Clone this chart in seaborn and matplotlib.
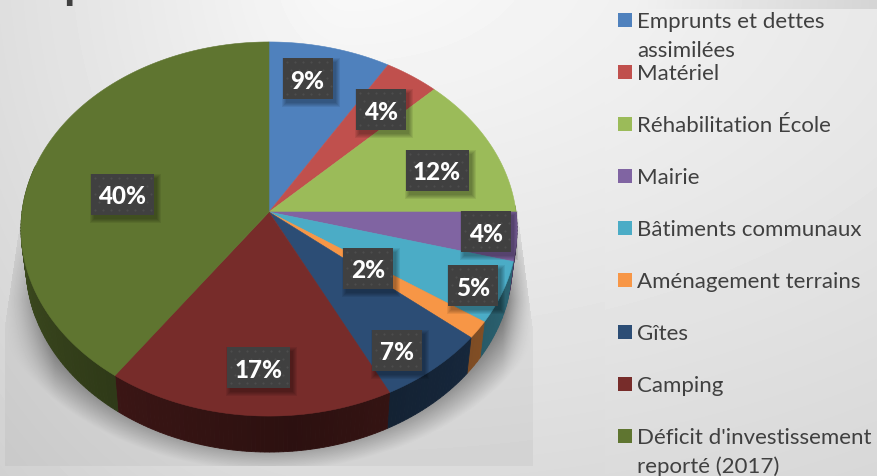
#!/usr/bin/env python3
import numpy as np
import matplotlib
matplotlib.use('Agg')
import matplotlib.pyplot as plt
from matplotlib.patches import Rectangle
import seaborn as sns

# parts of the budget (%)
categories = ['Emprunts et dettes\nassimilées', 'Matériel', 'Réhabilitation École', 'Mairie',
              'Bâtiments communaux', 'Aménagement terrains', 'Gîtes', 'Camping',
              "Déficit d'investissement\nreporté (2017)"]
values = [8.7, 3.9, 12.4, 4.2, 5.3, 1.5, 6.6, 17.2, 40.2]
colors = ['#4f81bd', '#c0504d', '#9bbb59', '#8064a2', '#4bacc6', '#f79646', '#2c4d75', '#772c2a', '#5f7530']

# where the label boxes sit, in pixels
label_xy = [(307.5, 78.5), (381, 109), (437, 170), (486, 231), (473, 285),
            (368, 268), (397, 350), (258.5, 367.5), (122, 194)]

sns.set_theme(style='white')
plt.rcParams['font.family'] = ['Lato', 'DejaVu Sans']
palette = sns.color_palette(colors)

W, H = 877, 476
fig = plt.figure(figsize=(W / 100, H / 100), dpi=100)
ax = fig.add_axes([0, 0, 1, 1])
ax.set_xlim(0, W)
ax.set_ylim(H, 0)
ax.axis('off')

# pie seen in perspective: circle -> ellipse, centre moved up
cx, cy, a, b, k = 269, 212, 247, 185.5, 0.0909
depth = 36


def rim(theta):
    u, v = np.sin(theta), np.cos(theta)
    w = 1 + k * v
    return cx + a * u / w, cy - b * v / w


# slide background and pie shadow
xx, yy = np.meshgrid(np.arange(W) + .5, np.arange(H) + .5)
sx = np.where(xx < 350, 380, 900)
grey = 250 - 30 * np.hypot((xx - 350) / sx, (yy + 40) / 520)
grey[yy < 9] -= np.clip((xx[yy < 9] - 640) / 237, 0, 1) * 20
grey[xx < 605] -= .7 * yy[xx < 605] / H

edge_l = np.where(yy < 325, 22 - (yy - 210) * 17 / 115, 5)
edge_r = np.where(yy < 330, 516 + (yy - 200) * 17 / 130, 533)
mask = (yy > 205) & (yy < 466) & (xx > edge_l) & (xx < edge_r)
d = np.hypot((xx - 269) / 300, (yy - 235) / 236)
fade = np.clip((1.0 - d) / .16, 0, 1)
fade = fade * np.clip((xx - 5) / 50, 0, 1) * np.clip((533 - xx) / 30, 0, 1) * np.clip((yy - 210) / 90, 0, 1)
soft = .04 * np.clip((yy - 205) / 100, 0, 1)
grey = np.where(mask, grey * (1 - soft - .46 * fade), grey)
ax.imshow(grey, cmap='gray', vmin=0, vmax=255, extent=(0, W, H, 0), aspect='auto', zorder=0)

# slices
edges = np.cumsum([0] + values) / sum(values) * 2 * np.pi
for i in range(len(values)):
    t0, t1 = edges[i], edges[i + 1]
    col = np.array(palette[i])
    # side wall
    ts = np.linspace(t0, t1, max(int((t1 - t0) * 60), 2))
    for p, q in zip(ts[:-1], ts[1:]):
        mid = np.degrees((p + q) / 2)
        if mid < 88 or mid > 285:
            continue
        x0, y0 = rim(p)
        x1, y1 = rim(q)
        xb0 = cx + (x0 - cx) * .98
        xb1 = cx + (x1 - cx) * .98
        shade = .37 + .003 * abs(mid - 175)
        ax.fill([x0, x1, xb1, xb0], [y0, y1, y1 + depth, y0 + depth], color=col * shade, lw=.6, zorder=2)
for i in range(len(values)):
    ts = np.linspace(edges[i], edges[i + 1], 120)
    x, y = rim(ts)
    ax.fill(np.r_[cx, x], np.r_[cy, y], color=palette[i], lw=.4, zorder=3)

# data labels: dark dotted box, soft shadow, white percent
for val, (x, y) in zip(values, label_xy):
    txt = f'{round(val)}%'
    bw = 63 if len(txt) > 2 else 50
    bh = 41
    for s in range(5, 0, -1):
        ax.add_patch(Rectangle((x - bw / 2 + 3 - s + 1, y - bh / 2 + 4 - s + 1), bw + 2 * s - 2, bh + 2 * s - 2,
                               color='black', alpha=.07, lw=0, zorder=4))
    ax.add_patch(Rectangle((x - bw / 2, y - bh / 2), bw, bh, color='#404040', lw=0, zorder=5))
    gx, gy = np.meshgrid(np.arange(x - bw / 2 + 4, x + bw / 2 - 1, 8), np.arange(y - bh / 2 + 4, y + bh / 2 - 1, 8))
    gx = gx + (np.arange(gx.shape[0])[:, None] % 2) * 4
    keep = gx < x + bw / 2 - 1
    ax.scatter(gx[keep], gy[keep], s=2.5, color='#4d4d4d', lw=0, zorder=6)
    ax.text(x, y + 1, txt, color='white', fontsize=17.5, fontweight='black', ha='center', va='center_baseline', zorder=7)

# legend
for i, name in enumerate(categories):
    ym = 20 + 52 * i
    ax.add_patch(Rectangle((618, ym - 7), 14, 14, color=palette[i], lw=0, zorder=3))
    for j, line in enumerate(name.split('\n')):
        ax.text(637, ym + 29 * j, line, color='#404040', fontsize=16, ha='left', va='center_baseline', zorder=3)

# title runs off the top of the crop, only the p tail is left
ax.text(10, -2, 'Répartition', color='#404040', fontsize=33, fontweight='bold', ha='left', va='baseline', zorder=3)

fig.savefig('out.png', dpi=100)
